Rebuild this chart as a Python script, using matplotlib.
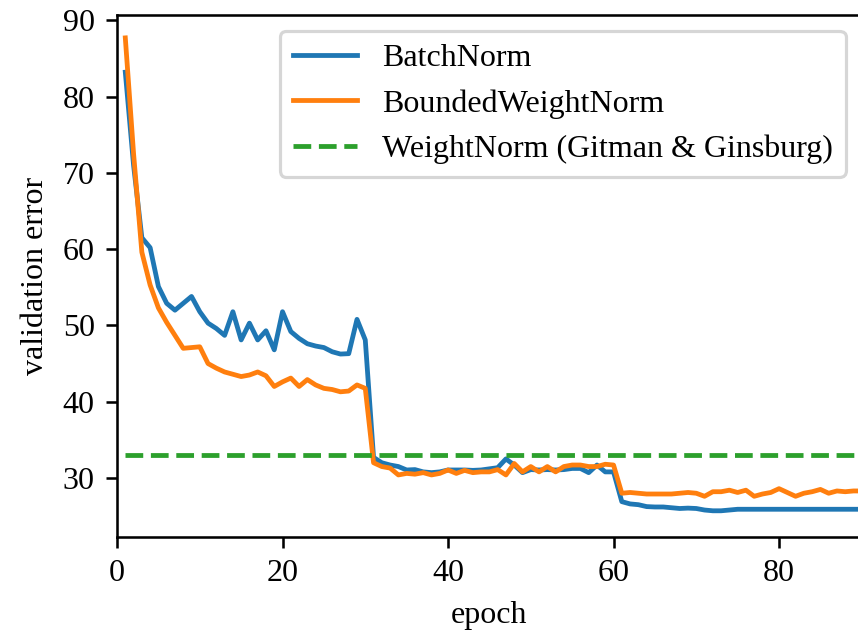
import numpy as np
import matplotlib
matplotlib.use("Agg")
from matplotlib import pyplot as plt

plt.rcParams['font.family'] = 'serif'
plt.rcParams['font.serif'] = ['Liberation Serif', 'DejaVu Serif']

# validation error per epoch (1..90)
epochs = np.arange(1, 91)

batchnorm = [83.2, 71.0, 61.5, 60.2, 55.1, 52.9, 52.0, 52.9, 53.8, 51.8,
             50.3, 49.6, 48.7, 51.8, 48.1, 50.3, 48.1, 49.3, 46.8, 51.8,
             49.2, 48.3, 47.6, 47.3, 47.1, 46.55, 46.25, 46.3, 50.8, 48.1,
             32.7, 32.0, 31.7, 31.5, 31.05, 31.1, 30.8, 30.7, 30.8, 31.05,
             31.05, 31.05, 31.0, 31.05, 31.2, 31.35, 32.5, 31.7, 30.7, 31.1,
             31.05, 31.1, 31.05, 31.1, 31.25, 31.25, 30.7, 31.7, 30.8, 30.8,
             26.9, 26.6, 26.5, 26.25, 26.2, 26.2, 26.1, 26.0, 26.05, 26.0,
             25.8, 25.7, 25.7, 25.8, 25.9, 25.9, 25.9, 25.9, 25.9, 25.9,
             25.9, 25.9, 25.9, 25.9, 25.9, 25.9, 25.9, 25.9, 25.9, 25.9]

bounded_wn = [87.7, 72.5, 59.6, 55.3, 52.3, 50.4, 48.7, 47.0, 47.1, 47.2,
              45.0, 44.4, 43.9, 43.6, 43.3, 43.5, 43.9, 43.4, 42.0, 42.6,
              43.1, 42.0, 42.9, 42.2, 41.75, 41.6, 41.3, 41.4, 42.2, 41.75,
              32.0, 31.5, 31.3, 30.4, 30.6, 30.5, 30.7, 30.4, 30.6, 31.05,
              30.6, 31.0, 30.7, 30.8, 30.8, 31.1, 30.4, 31.9, 30.8, 31.5,
              30.8, 31.5, 30.8, 31.5, 31.7, 31.7, 31.5, 31.5, 31.8, 31.7,
              28.0, 28.1, 28.0, 27.9, 27.9, 27.9, 27.9, 28.0, 28.1, 28.0,
              27.6, 28.2, 28.2, 28.4, 28.1, 28.4, 27.6, 27.9, 28.1, 28.6,
              28.1, 27.6, 28.0, 28.2, 28.5, 28.0, 28.3, 28.2, 28.3, 28.3]

weightnorm_err = 33.0

fig = plt.figure(figsize=(858 / 230, 633 / 230), dpi=230)
ax = fig.add_axes([0.1364, 0.1521, 0.868, 0.8242])

ax.plot(epochs, batchnorm, label='BatchNorm')
ax.plot(epochs, bounded_wn, label='BoundedWeightNorm')
ax.plot(epochs, [weightnorm_err] * len(epochs), '--',
        label='WeightNorm (Gitman & Ginsburg)')

ax.set_xlim(0, 90)
ax.set_ylim(22.3, 90.7)
ax.set_xlabel('epoch')
ax.set_ylabel('validation error')
ax.legend(loc='upper right')

fig.savefig('out.png', dpi=230)
